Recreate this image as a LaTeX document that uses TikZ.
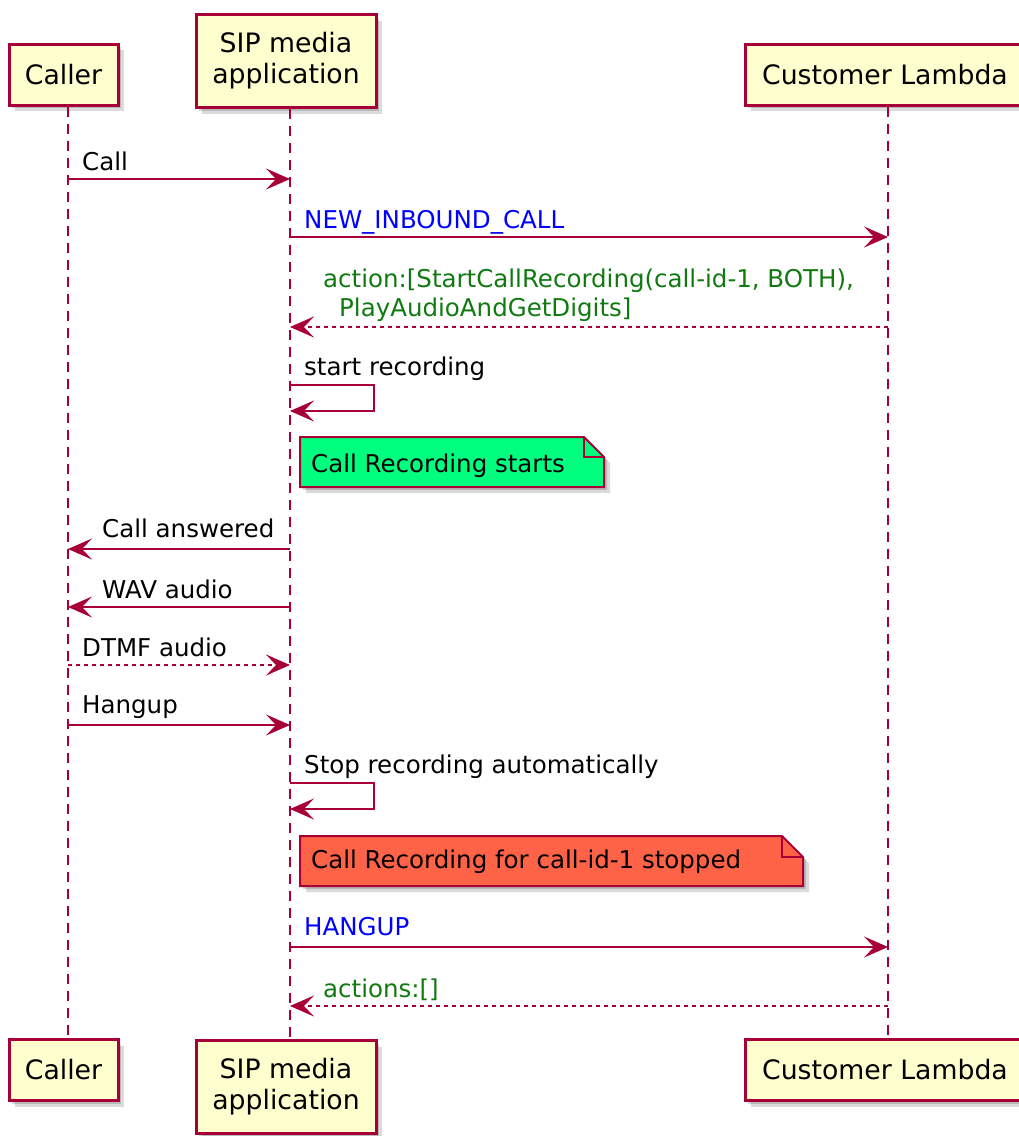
\documentclass[tikz,border=0pt]{standalone}
\usepackage{fontspec}
\setmainfont{DejaVu Sans}
\usetikzlibrary{arrows.meta,shadows}
\definecolor{pline}{HTML}{A80036}
\definecolor{pfill}{HTML}{FEFECE}
\definecolor{ngreen}{HTML}{00FF7F}
\definecolor{nred}{HTML}{FF6347}
\definecolor{tblue}{HTML}{0000FF}
\definecolor{tgreen}{HTML}{107A10}
\begin{document}
\begin{tikzpicture}[x=1pt,y=-1pt,
  shadowy/.style={drop shadow={shadow xshift=3pt, shadow yshift=-3pt, fill=black, opacity=0.16},
                  drop shadow={shadow xshift=6pt, shadow yshift=-6pt, fill=black, opacity=0.14}},
  part/.style={draw=pline, fill=pfill, line width=3pt, shadowy,
    font=\fontsize{26.7}{31}\selectfont, align=center, inner sep=0pt},
  life/.style={draw=pline, line width=2pt, dash pattern=on 10pt off 7pt},
  msg/.style={draw=pline, line width=2pt, -{Stealth[length=24pt,width=21pt,inset=10pt]}},
  ret/.style={msg, dash pattern=on 4pt off 4pt},
  lbl/.style={anchor=base west, inner sep=0pt, font=\fontsize{24.5}{29}\selectfont},
  notebox/.style={draw=pline, line width=2pt, shadowy},
  fold/.style={draw=pline, line width=2pt}
]
\useasboundingbox (0,0) rectangle (1019,1136);

% participants
\node[part, minimum width=109pt, minimum height=61pt] (callerT) at (63.5,74.5) {Caller};
\node[part, minimum width=180pt, minimum height=93pt] (sipT) at (286,61) {SIP media\\application};
\node[part, minimum width=280pt, minimum height=61pt] (lamT) at (885,74.5) {Customer Lambda};
\node[part, minimum width=109pt, minimum height=61pt] (callerB) at (63.5,1070) {Caller};
\node[part, minimum width=180pt, minimum height=93pt] (sipB) at (286,1087) {SIP media\\application};
\node[part, minimum width=280pt, minimum height=61pt] (lamB) at (885,1070) {Customer Lambda};

% lifelines
\coordinate (Lc) at (68,0);
\coordinate (Ls) at (290,0);
\coordinate (Ll) at (888,0);
\draw[life] (callerT.south -| Lc) -- (callerB.north -| Lc);
\draw[life] (sipT.south -| Ls) -- (sipB.north -| Ls);
\draw[life] (lamT.south -| Ll) -- (lamB.north -| Ll);

% messages
\node[lbl] (m1) at (82,170) {Call};
\draw[msg] (Lc |- 0,179) -- (Ls |- 0,179);

\node[lbl, text=tblue] (m2) at (304,228) {NEW\_INBOUND\_CALL};
\draw[msg] (Ls |- 0,237) -- (Ll |- 0,237);

\node[lbl, text=tgreen] (m3a) at (323,287) {action:[StartCallRecording(call-id-1, BOTH),};
\node[lbl, text=tgreen] (m3b) at (339,316) {PlayAudioAndGetDigits]};
\draw[ret] (Ll |- 0,327) -- (Ls |- 0,327);

\node[lbl] (m4) at (304,375) {start recording};
\draw[msg] (Ls |- 0,385) -- ++(84,0) -- ++(0,26) -- (Ls |- 0,411);

% green note
\draw[notebox, fill=ngreen] (300,437) -- (584,437) -- (604,457) -- (604,487) -- (300,487) -- cycle;
\draw[fold] (584,437) -- (584,457) -- (604,457);
\node[lbl] (n1) at (311,472) {Call Recording starts};

\node[lbl] (m5) at (102,537) {Call answered};
\draw[msg] (Ls |- 0,549) -- (Lc |- 0,549);

\node[lbl] (m6) at (102,598) {WAV audio};
\draw[msg] (Ls |- 0,607) -- (Lc |- 0,607);

\node[lbl] (m7) at (82,656) {DTMF audio};
\draw[ret] (Lc |- 0,665) -- (Ls |- 0,665);

\node[lbl] (m8) at (82,713) {Hangup};
\draw[msg] (Lc |- 0,725) -- (Ls |- 0,725);

\node[lbl] (m9) at (304,773) {Stop recording automatically};
\draw[msg] (Ls |- 0,783) -- ++(84,0) -- ++(0,26) -- (Ls |- 0,809);

% red note
\draw[notebox, fill=nred] (300,836) -- (782,836) -- (803,857) -- (803,886) -- (300,886) -- cycle;
\draw[fold] (782,836) -- (782,857) -- (803,857);
\node[lbl] (n2) at (311,868) {Call Recording for call-id-1 stopped};

\node[lbl, text=tblue] (m10) at (304,935) {HANGUP};
\draw[msg] (Ls |- 0,947) -- (Ll |- 0,947);

\node[lbl, text=tgreen] (m11) at (323,997) {actions:[]};
\draw[ret] (Ll |- 0,1006) -- (Ls |- 0,1006);
\end{tikzpicture}
\end{document}
